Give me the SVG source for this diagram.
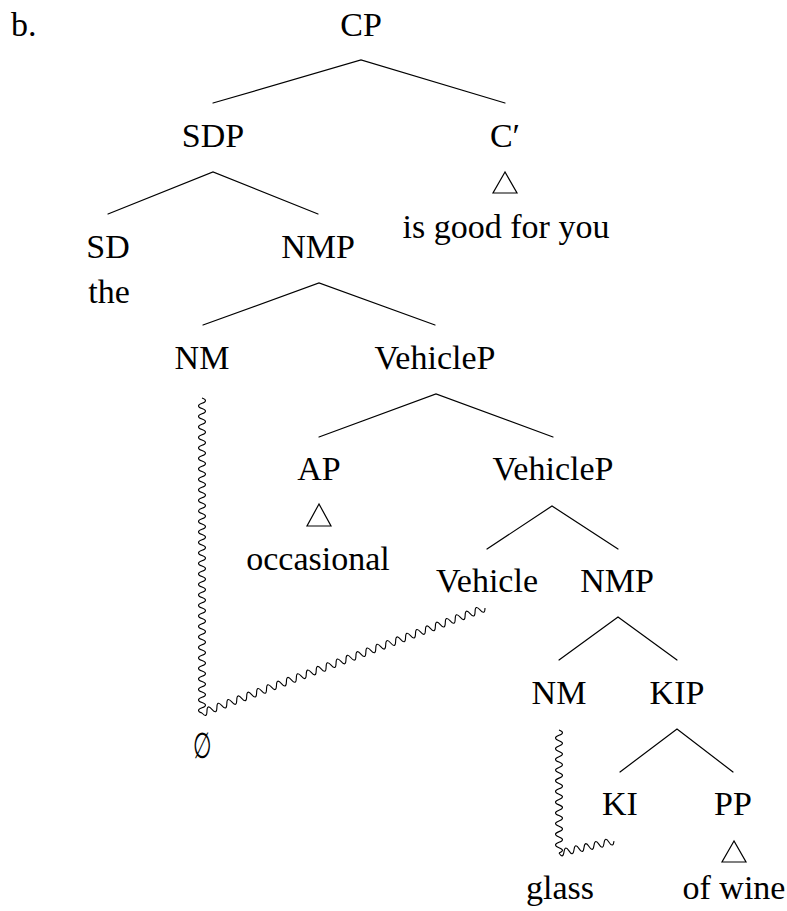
<svg xmlns="http://www.w3.org/2000/svg" width="787" height="911" viewBox="0 0 787 911">
  <style>
    text { font-family: "Liberation Serif", "DejaVu Serif", serif; font-size: 34px; fill: #000; text-anchor: middle; }
    .edge { stroke: #000; stroke-width: 1.2; fill: none; stroke-linecap: round; }
    .wave { stroke: #000; stroke-width: 1.1; fill: none; stroke-linejoin: round; }
    .tri { stroke: #000; stroke-width: 1.2; fill: none; stroke-linejoin: miter; }
  </style>

  <!-- example label -->
  <text x="11" y="36" style="text-anchor:start">b.</text>

  <!-- tree branches -->
  <g id="connectors">
    <polyline class="edge" points="213,103 361,60 505,103"/>
    <polyline class="edge" points="108,214 213,172 318,214"/>
    <polyline class="edge" points="203,325 319,283 435,325"/>
    <polyline class="edge" points="319,437 436,394 553,437"/>
    <polyline class="edge" points="487,549 552,506 618,549"/>
    <polyline class="edge" points="559,660 618,617 677,660"/>
    <polyline class="edge" points="620,772 677,729 733,772"/>

    <!-- movement path: NM down to the null element, then up to Vehicle -->
    <path class="wave" d="M202 398 q7 2.625 0 5.25
      t0 5.25 t0 5.25 t0 5.25 t0 5.25 t0 5.25 t0 5.25 t0 5.25 t0 5.25 t0 5.25 t0 5.25
      t0 5.25 t0 5.25 t0 5.25 t0 5.25 t0 5.25 t0 5.25 t0 5.25 t0 5.25 t0 5.25 t0 5.25
      t0 5.25 t0 5.25 t0 5.25 t0 5.25 t0 5.25 t0 5.25 t0 5.25 t0 5.25 t0 5.25 t0 5.25
      t0 5.25 t0 5.25 t0 5.25 t0 5.25 t0 5.25 t0 5.25 t0 5.25 t0 5.25 t0 5.25 t0 5.25
      t0 5.25 t0 5.25 t0 5.25 t0 5.25 t0 5.25 t0 5.25 t0 5.25 t0 5.25 t0 5.25 t0 5.25
      t0 5.25 t0 5.25 t0 5.25 t0 5.25 t0 5.25 t0 5.25 t0 5.25 t0 5.25 t0 5.25"/>
    <path class="wave" d="M202 713 q4.918 5.642 4.965 -1.842
      t4.965 -1.842 t4.965 -1.842 t4.965 -1.842 t4.965 -1.842 t4.965 -1.842 t4.965 -1.842 t4.965 -1.842 t4.965 -1.842 t4.965 -1.842 t4.965 -1.842
      t4.965 -1.842 t4.965 -1.842 t4.965 -1.842 t4.965 -1.842 t4.965 -1.842 t4.965 -1.842 t4.965 -1.842 t4.965 -1.842 t4.965 -1.842 t4.965 -1.842
      t4.965 -1.842 t4.965 -1.842 t4.965 -1.842 t4.965 -1.842 t4.965 -1.842 t4.965 -1.842 t4.965 -1.842 t4.965 -1.842 t4.965 -1.842 t4.965 -1.842
      t4.965 -1.842 t4.965 -1.842 t4.965 -1.842 t4.965 -1.842 t4.965 -1.842 t4.965 -1.842 t4.965 -1.842 t4.965 -1.842 t4.965 -1.842 t4.965 -1.842
      t4.965 -1.842 t4.965 -1.842 t4.965 -1.842 t4.965 -1.842 t4.965 -1.842 t4.965 -1.842 t4.965 -1.842 t4.965 -1.842 t4.965 -1.842 t4.965 -1.842
      t4.965 -1.842 t4.965 -1.842 t4.965 -1.842 t4.965 -1.842 t4.965 -1.842 t4.965 -1.842"/>

    <!-- movement path: NM down to glass, then up to KI -->
    <path class="wave" d="M559 730 q7 2.674 0 5.348
      t0 5.348 t0 5.348 t0 5.348 t0 5.348 t0 5.348 t0 5.348 t0 5.348 t0 5.348 t0 5.348 t0 5.348
      t0 5.348 t0 5.348 t0 5.348 t0 5.348 t0 5.348 t0 5.348 t0 5.348 t0 5.348 t0 5.348 t0 5.348
      t0 5.348 t0 5.348"/>
    <path class="wave" d="M559 853 q3.982 6.297 5 -1.083
      t5 -1.083 t5 -1.083 t5 -1.083 t5 -1.083 t5 -1.083 t5 -1.083 t5 -1.083 t5 -1.083 t5 -1.083 t5 -1.083"/>
  </g>

  <g id="CP"><text x="361" y="36">CP</text></g>
  <g id="SDP"><text x="213" y="147">SDP</text></g>
  <g id="Cbar">
    <text x="505" y="147">C′</text>
    <polygon class="tri" points="505,172 493,193 517,193"/>
    <text x="506" y="238">is good for you</text>
  </g>
  <g id="SD">
    <text x="108" y="258">SD</text>
    <text x="109" y="303">the</text>
  </g>
  <g id="NMP1"><text x="318" y="258">NMP</text></g>
  <g id="NM1"><text x="202" y="369">NM</text></g>
  <g id="VehicleP1"><text x="435" y="369">VehicleP</text></g>
  <g id="AP">
    <text x="319" y="480">AP</text>
    <polygon class="tri" points="319,504 307,526 331,526"/>
    <text x="318" y="570">occasional</text>
  </g>
  <g id="VehicleP2"><text x="553" y="480">VehicleP</text></g>
  <g id="Vehicle"><text x="487" y="592">Vehicle</text></g>
  <g id="NMP2"><text x="617" y="592">NMP</text></g>
  <g id="null"><text transform="translate(202,758) scale(0.62,1.05)" x="0" y="0">∅</text></g>
  <g id="NM2">
    <text x="559" y="704">NM</text>
    <text x="560" y="899">glass</text>
  </g>
  <g id="KIP"><text x="677" y="704">KIP</text></g>
  <g id="KI"><text x="620" y="815">KI</text></g>
  <g id="PP">
    <text x="733" y="815">PP</text>
    <polygon class="tri" points="734,841 722,862 746,862"/>
    <text x="734" y="899">of wine</text>
  </g>
</svg>
